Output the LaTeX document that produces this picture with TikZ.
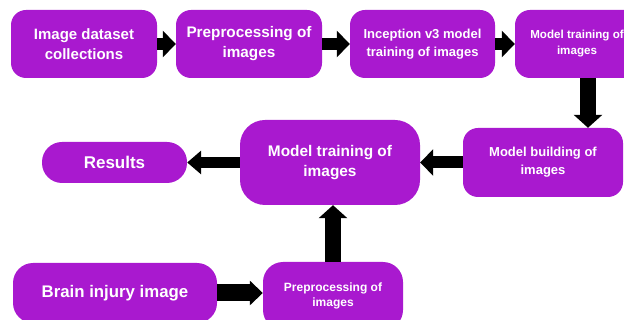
\documentclass[tikz,border=0pt]{standalone}
\usepackage{fontspec}
\setmainfont{Liberation Sans}
\usepackage{xcolor}
\usepackage{tikz}
\usetikzlibrary{arrows.meta}
\definecolor{plum}{RGB}{169,25,207}
\newcommand{\sz}[2]{\fontsize{#1}{#2}\selectfont\bfseries}
\tikzset{blk/.style={rectangle,rounded corners=15pt,fill=plum,text=white,align=center,inner sep=0pt}}
\tikzset{arr/.style={line width=12pt,-{Triangle[length=13pt,width=26pt]}}}

\begin{document}
\begin{tikzpicture}[x=1pt,y=-1pt]
    \useasboundingbox (0,0) rectangle (624,320);
    \clip (0,0) rectangle (624,320);

    \node[blk,minimum width=146pt,minimum height=68pt,font=\sz{15}{20}] (idc) at (84,44) {Image dataset\\collections};
    \node[blk,minimum width=146pt,minimum height=68pt,font=\sz{15.3}{20}] (pre) at (249,44) {Preprocessing of\\images};
    \node[blk,minimum width=145pt,minimum height=68pt,font=\sz{13}{18}] (inc) at (422.5,44) {Inception v3 model\\training of images};
    \node[blk,minimum width=124pt,minimum height=68pt,font=\sz{11.6}{16}] (mtr) at (577,44) {Model training of\\images};
    \node[blk,minimum width=160pt,minimum height=69pt,font=\sz{13}{18}] (mbl) at (543,162.5) {Model building of\\images};
    \node[blk,rounded corners=25pt,minimum width=180pt,minimum height=85pt,font=\sz{15.4}{20}] (mtb) at (330,162.5) {Model training of\\images};
    \node[blk,rounded corners=20pt,minimum width=145pt,minimum height=41pt,font=\sz{17}{18}] (res) at (114.5,162.5) {Results};
    \node[blk,rounded corners=20pt,minimum width=204pt,minimum height=60pt,font=\sz{16.8}{20}] (bii) at (115,293) {Brain injury image};
    \node[blk,rounded corners=20pt,minimum width=140pt,minimum height=68pt,font=\sz{12}{15}] (prb) at (333,296) {Preprocessing of\\images};

    \draw [arr] (idc) -- (pre);
    \draw [arr] (pre) -- (inc);
    \draw [arr] (inc.east |- mtr) -- (mtr.west);
    \draw [arr,line width=16pt,-{Triangle[length=13pt,width=28pt]}] ([xshift=11pt]mtr.south) -- ([xshift=11pt]mtr.south |- mbl.north);
    \draw [arr] (mbl) -- (mtb);
    \draw [arr,line width=11pt,-{Triangle[length=14pt,width=23pt]}] (mtb) -- (res);
    \draw [arr,line width=17pt,-{Triangle[length=13pt,width=24pt]}] (bii.east) -- (bii.east -| prb.west);
    \draw [arr,line width=16pt,-{Triangle[length=13pt,width=28pt]}] (prb.north) -- (prb.north |- mtb.south);
\end{tikzpicture}
\end{document}
